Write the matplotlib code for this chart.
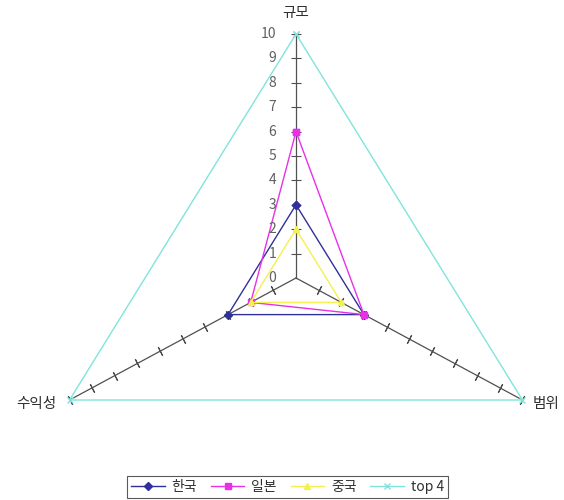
import numpy as np
import matplotlib
matplotlib.use('Agg')
import matplotlib.pyplot as plt

plt.rcParams['font.family'] = ['Noto Sans CJK KR', 'DejaVu Sans']

# 데이터
categories = ['규모', '범위', '수익성']
series_names = ['한국', '일본', '중국', 'top 4']
korea = [3, 3, 3]
japan = [6, 3, 2]
china = [2, 2, 2]
top4 = [10, 10, 10]
tick_labels = [str(i) for i in range(11)]

colors = ['#30309a', '#e830e8', '#f4f050', '#80e4dc']
markers = ['D', 's', '^', 'x']

# 축 방향 (위쪽부터 시계방향)
theta = np.deg2rad([0, 120, 240])
sx = np.sin(theta)
sy = np.cos(theta)

fig = plt.figure(figsize=(5.64, 5.0), dpi=100)
ax = fig.add_axes([0, 0, 1, 1])
ax.set_xlim(-296 / 26.15, 268 / 26.15)
ax.set_ylim(-222 / 24.4, 278 / 24.4)
ax.axis('off')

# 축선과 눈금
axis_col = '#505050'
r = np.arange(0, 11)
tick_rot = [None, -27, 27]
for i in range(3):
    ax.plot([0, 10 * sx[i]], [0, 10 * sy[i]], color=axis_col, lw=0.9, zorder=1)
    mk = '_' if i == 0 else (2, 2, tick_rot[i])
    ax.plot(r[1:] * sx[i], r[1:] * sy[i], ls='none', marker=mk, ms=7,
            mec=axis_col, mew=0.8, zorder=1)

# 눈금 라벨
for v, lab in zip(r, tick_labels):
    ax.text(-0.75, v, lab, ha='right', va='center', fontsize=10, color='#606060')

# 카테고리 라벨
ax.text(0, 10.85, categories[0], ha='center', va='center', fontsize=10.5, color='#303030')
ax.text(10 * sx[1] + 0.4, 10 * sy[1] - 0.15, categories[1], ha='left', va='center',
        fontsize=10.5, color='#303030')
ax.text(10 * sx[2] - 0.5, 10 * sy[2] - 0.15, categories[2], ha='right', va='center',
        fontsize=10.5, color='#303030')

# 시리즈
all_series = [korea, japan, china, top4]
for name, vals, c, m in zip(series_names, all_series, colors, markers):
    v = np.array(vals + vals[:1], dtype=float)
    xs = v * np.append(sx, sx[0])
    ys = v * np.append(sy, sy[0])
    ax.plot(xs, ys, color=c, lw=1.0, marker=m, ms=4, mfc=c, mec=c,
            label=name, zorder=2)

leg = ax.legend(loc='center', bbox_to_anchor=(0.51, 0.026), ncol=4, fontsize=10,
                frameon=True, fancybox=False, edgecolor='#303030',
                handlelength=2.4, handletextpad=0.5, columnspacing=1.0,
                borderpad=0.3, bbox_transform=fig.transFigure)
leg.get_frame().set_linewidth(0.8)
for t in leg.get_texts():
    t.set_color('#303030')

fig.savefig('out.png', dpi=100)
